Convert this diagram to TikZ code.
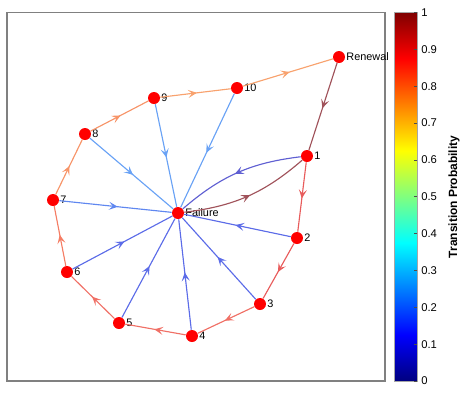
\documentclass[tikz,border=0pt]{standalone}
\usepackage{fontspec}
\setmainfont{Liberation Sans}
\usetikzlibrary{arrows.meta,decorations.markings}

% jet colour map, stretched over the middle 50bp as tikz expects
\pgfdeclareverticalshading{jetmap}{100bp}{rgb(0bp)=(0,0,0.5); rgb(25bp)=(0,0,0.5);
  rgb(31.25bp)=(0,0,1); rgb(43.75bp)=(0,1,1); rgb(56.25bp)=(1,1,0);
  rgb(68.75bp)=(1,0,0); rgb(75bp)=(0.5,0,0); rgb(100bp)=(0.5,0,0)}

% edge colours: jet values seen through the half transparent lines
\definecolor{pTop}{RGB}{160,82,90}
\definecolor{pRed}{RGB}{232,92,92}
\definecolor{pRedOr}{RGB}{240,112,102}
\definecolor{pOrA}{RGB}{245,125,100}
\definecolor{pOrB}{RGB}{247,148,104}
\definecolor{pOrC}{RGB}{248,162,110}
\definecolor{pNavy}{RGB}{95,95,210}
\definecolor{pBlue}{RGB}{92,108,232}
\definecolor{pBlueB}{RGB}{95,135,240}
\definecolor{pSky}{RGB}{105,162,245}

\begin{document}
\begin{tikzpicture}[x=0.02cm, y=-0.02cm,
    state/.style={circle, fill=red, inner sep=0pt, minimum size=0.24cm},
    tag/.style={font=\fontsize{6.2}{7}\selectfont, inner sep=0.4pt},
    link/.style={line width=0.65pt, postaction={decorate},
                 decoration={markings, mark=at position 0.52 with
                   {\arrow{Stealth[length=5pt,width=4.6pt,inset=2.2pt]}}}},
    tick/.style={font=\fontsize{6.4}{7.5}\selectfont, anchor=west, inner sep=0pt}]

  \useasboundingbox (0,0) rectangle (474,397);

  % ---- axes frame
  \draw[gray, line width=0.6pt] (7,12.5) rectangle (385,381);

  % ---- the states
  \node[state, label={[tag]right:Renewal}] (ren) at (339,57) {};
  \node[state, label={[tag]right:1}]  (n1)  at (307,156) {};
  \node[state, label={[tag]right:2}]  (n2)  at (297,238) {};
  \node[state, label={[tag]right:3}]  (n3)  at (260,304) {};
  \node[state, label={[tag]right:4}]  (n4)  at (192,336) {};
  \node[state, label={[tag]right:5}]  (n5)  at (119,323) {};
  \node[state, label={[tag]right:6}]  (n6)  at (67,272) {};
  \node[state, label={[tag]right:7}]  (n7)  at (53,200) {};
  \node[state, label={[tag]right:8}]  (n8)  at (85,134) {};
  \node[state, label={[tag]right:9}]  (n9)  at (154,98) {};
  \node[state, label={[tag]right:10}] (n10) at (237,88) {};
  \node[state, label={[tag]right:Failure}] (fail) at (178,213) {};

  % ---- the outer ring
  \draw[link, color=pTop]   (ren) -- (n1);
  \draw[link, color=pRed]   (n1) -- (n2);
  \draw[link, color=pRed]   (n2) -- (n3);
  \draw[link, color=pRedOr] (n3) -- (n4);
  \draw[link, color=pRedOr] (n4) -- (n5);
  \draw[link, color=pRedOr] (n5) -- (n6);
  \draw[link, color=pOrA]   (n6) -- (n7);
  \draw[link, color=pOrB]   (n7) -- (n8);
  \draw[link, color=pOrB]   (n8) -- (n9);
  \draw[link, color=pOrC]   (n9) -- (n10);
  \draw[link, color=pOrC]   (n10) -- (ren);

  % ---- spokes into Failure, and the way back to 1
  \foreach \i/\c in {2/pBlue,3/pBlue,4/pBlue,5/pBlue,6/pBlue,7/pBlueB,8/pSky,9/pSky,10/pSky}
    \draw[link, color=\c] (n\i) -- (fail);
  \draw[link, color=pNavy] (n1) to[bend right=17] (fail);
  \draw[link, color=pTop]  (fail) to[bend right=17] (n1);

  % ---- colour bar
  \shade[shading=jetmap] (394,12.5) rectangle (417,381);
  \draw[gray!70, line width=0.4pt] (394,12.5) rectangle (417,381);
  \foreach \v/\t in {0/0,1/0.1,2/0.2,3/0.3,4/0.4,5/0.5,6/0.6,7/0.7,8/0.8,9/0.9,10/1} {
    \draw[black!70, line width=0.4pt] (417,381-36.85*\v) -- ++(-3,0);
    \node[tick] at (421,381-36.85*\v) {\t};
  }
  \node[rotate=90, font=\bfseries\fontsize{6.8}{8}\selectfont] (cbar) at (454,197)
    {Transition Probability};
\end{tikzpicture}
\end{document}
